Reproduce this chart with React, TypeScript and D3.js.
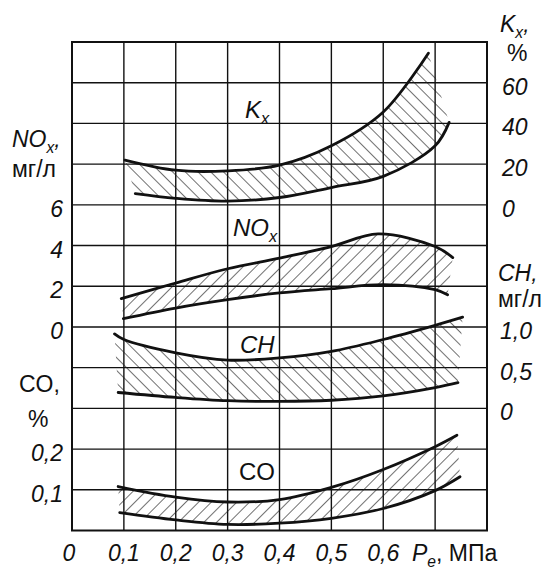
import React, { useRef, useEffect } from "react";
import * as d3 from "d3";

// tick values
const xTicks = [0, 0.1, 0.2, 0.3, 0.4, 0.5, 0.6];
const kxTicks = [0, 20, 40, 60];
const noxTicks = [0, 2, 4, 6];
const chTicks = [0, 0.5, 1.0];
const coTicks = [0.1, 0.2];

// K_x band, %
const kxUpperX = [0.102, 0.2, 0.3, 0.4, 0.5, 0.6, 0.687];
const kxUpperY = [22, 17, 16.7, 19.5, 29, 45.6, 74.5];
const kxLowerX = [0.122, 0.2, 0.3, 0.4, 0.5, 0.6, 0.7, 0.727];
const kxLowerY = [5.5, 3.2, 1.8, 3.6, 8.5, 14, 29, 40.5];

// NOx band, мг/л
const noxUpperX = [0.095, 0.2, 0.3, 0.4, 0.5, 0.59, 0.7, 0.734];
const noxUpperY = [1.39, 2.16, 2.86, 3.38, 3.95, 4.57, 3.95, 3.41];
const noxLowerX = [0.099, 0.2, 0.3, 0.4, 0.5, 0.6, 0.7, 0.724];
const noxLowerY = [0.41, 0.93, 1.34, 1.67, 1.88, 2.08, 1.83, 1.58];

// CH band, мг/л
const chUpperX = [0.082, 0.1, 0.2, 0.3, 0.4, 0.5, 0.6, 0.7, 0.753];
const chUpperY = [0.915, 0.846, 0.683, 0.593, 0.62, 0.7, 0.846, 1.02, 1.12];
const chLowerX = [0.089, 0.2, 0.3, 0.4, 0.5, 0.6, 0.7, 0.744];
const chLowerY = [0.195, 0.134, 0.094, 0.085, 0.1, 0.154, 0.256, 0.317];

// CO band, %
const coUpperX = [0.089, 0.2, 0.3, 0.4, 0.5, 0.6, 0.7, 0.742];
const coUpperY = [0.108, 0.082, 0.07, 0.076, 0.106, 0.15, 0.206, 0.234];
const coLowerX = [0.092, 0.2, 0.3, 0.4, 0.5, 0.6, 0.7, 0.748];
const coLowerY = [0.044, 0.026, 0.015, 0.018, 0.03, 0.054, 0.098, 0.132];

const FONT = "'Liberation Sans', Arial, sans-serif";

export default function App() {
  const svgRef = useRef<SVGSVGElement>(null);

  useEffect(() => {
    const w = 545;
    const h = 569;
    const svg = d3.select(svgRef.current);
    svg.selectAll("*").remove();
    svg.attr("width", w).attr("height", h).style("background", "#fff");

    // scales
    const x = d3.scaleLinear().domain([0, 0.8]).range([72, 487]);
    const row = d3.scaleLinear().domain([0, 12]).range([530.5, 42]);
    const yCO = d3.scaleLinear().domain([0, 0.1]).range([row(0), row(1)]);
    const yCH = d3.scaleLinear().domain([0, 0.5]).range([row(3), row(4)]);
    const yNOx = d3.scaleLinear().domain([0, 2]).range([row(5), row(6)]);
    const yK = d3.scaleLinear().domain([0, 20]).range([row(8), row(9)]);

    // hatch patterns
    const defs = svg.append("defs");
    const addHatch = (id: string, angle: number) => {
      defs
        .append("pattern")
        .attr("id", id)
        .attr("patternUnits", "userSpaceOnUse")
        .attr("width", 9)
        .attr("height", 9)
        .attr("patternTransform", `rotate(${angle})`)
        .append("line")
        .attr("x1", 0)
        .attr("y1", -1)
        .attr("x2", 0)
        .attr("y2", 10)
        .attr("stroke", "#1a1a1a")
        .attr("stroke-width", 1.25);
    };
    addHatch("hatchBack", -45);
    addHatch("hatchFwd", 45);

    // grid
    const grid = svg.append("g");
    grid
      .selectAll(".vl")
      .data(d3.range(1, 8).map((i) => i / 10))
      .join("line")
      .attr("x1", (d) => x(d))
      .attr("x2", (d) => x(d))
      .attr("y1", row(0))
      .attr("y2", row(12))
      .attr("stroke", "#111")
      .attr("stroke-width", 1.4);
    grid
      .selectAll(".hl")
      .data(d3.range(1, 12))
      .join("line")
      .attr("x1", x(0))
      .attr("x2", x(0.8))
      .attr("y1", (d) => row(d))
      .attr("y2", (d) => row(d))
      .attr("stroke", "#111")
      .attr("stroke-width", 1.4);
    grid
      .append("rect")
      .attr("x", x(0))
      .attr("y", row(12))
      .attr("width", x(0.8) - x(0))
      .attr("height", row(0) - row(12))
      .attr("fill", "none")
      .attr("stroke", "#111")
      .attr("stroke-width", 2);

    // bands
    const line = d3
      .line<[number, number]>()
      .x((d) => d[0])
      .y((d) => d[1])
      .curve(d3.curveCatmullRom.alpha(0.5));

    const drawBand = (
      ux: number[],
      uy: number[],
      lx: number[],
      ly: number[],
      yScale: d3.ScaleLinear<number, number>,
      hatch: string
    ) => {
      const up = ux.map((v, i) => [x(v), yScale(uy[i])] as [number, number]);
      const lo = lx.map((v, i) => [x(v), yScale(ly[i])] as [number, number]);
      const upPath = line(up) as string;
      const loRev = (line(lo.slice().reverse()) as string).replace(/^M/, "L");
      svg
        .append("path")
        .attr("d", upPath + loRev + "Z")
        .attr("fill", `url(#${hatch})`)
        .attr("stroke", "none");
      svg
        .selectAll(null)
        .data([up, lo])
        .join("path")
        .attr("d", (d) => line(d))
        .attr("fill", "none")
        .attr("stroke", "#111")
        .attr("stroke-width", 2.8)
        .attr("stroke-linecap", "round");
    };

    drawBand(kxUpperX, kxUpperY, kxLowerX, kxLowerY, yK, "hatchBack");
    drawBand(noxUpperX, noxUpperY, noxLowerX, noxLowerY, yNOx, "hatchFwd");
    drawBand(chUpperX, chUpperY, chLowerX, chLowerY, yCH, "hatchBack");
    drawBand(coUpperX, coUpperY, coLowerX, coLowerY, yCO, "hatchFwd");

    // number format with decimal comma
    const ru = d3.formatLocale({
      decimal: ",",
      thousands: " ",
      grouping: [3],
      currency: ["", ""],
    });
    const f1 = (v: number) => (v === 0 ? "0" : ru.format(".1f")(v));
    const f0 = (v: number) => ru.format("d")(v);

    const txt = svg
      .append("g")
      .attr("font-family", FONT)
      .attr("fill", "#111");

    const tickText = (
      data: number[],
      xp: number,
      yScale: d3.ScaleLinear<number, number>,
      anchor: string,
      fmt: (v: number) => string
    ) => {
      txt
        .append("g")
        .selectAll("text")
        .data(data)
        .join("text")
        .attr("x", xp)
        .attr("y", (d) => yScale(d) + 12)
        .attr("text-anchor", anchor)
        .attr("font-size", 23)
        .attr("font-style", "italic")
        .text(fmt);
    };

    tickText(noxTicks, 63, yNOx, "end", f0);
    tickText(coTicks, 63, yCO, "end", f1);
    tickText(kxTicks, 502, yK, "start", f0);
    tickText(chTicks, 500, yCH, "start", f1);

    // x ticks
    txt
      .append("g")
      .selectAll("text")
      .data(xTicks)
      .join("text")
      .attr("x", (d) => x(d) - (d === 0 ? 3 : 0))
      .attr("y", 561)
      .attr("text-anchor", "middle")
      .attr("font-size", 23)
      .attr("font-style", "italic")
      .text(f1);

    // labels with subscripts
    const subLabel = (
      xp: number,
      yp: number,
      main: string,
      sub: string,
      tail: string,
      size: number,
      italic: boolean,
      tailItalic = italic
    ) => {
      const t = txt
        .append("text")
        .attr("x", xp)
        .attr("y", yp)
        .attr("font-size", size);
      t.append("tspan")
        .attr("font-style", italic ? "italic" : "normal")
        .text(main);
      if (sub) {
        t.append("tspan")
          .attr("font-size", size * 0.68)
          .attr("dy", size * 0.25)
          .attr("font-style", italic ? "italic" : "normal")
          .text(sub);
      }
      if (tail) {
        t.append("tspan")
          .attr("dy", sub ? -size * 0.25 : 0)
          .attr("font-style", tailItalic ? "italic" : "normal")
          .text(tail);
      }
    };

    // left axis titles
    subLabel(12, 147, "NO", "x", ",", 23, true);
    subLabel(12, 177, "мг/л", "", "", 23, false);
    subLabel(19, 392, "CO,", "", "", 23, false);
    subLabel(28, 427, "%", "", "", 23, false);

    // right axis titles
    subLabel(500, 32, "K", "x", ",", 23, true);
    subLabel(507, 61, "%", "", "", 23, false);
    subLabel(498, 281, "CH,", "", "", 23, true);
    subLabel(498, 307, "мг/л", "", "", 23, false);

    // x axis title
    subLabel(412, 561, "P", "e", ",  МПа", 23, true, false);

    // curve labels
    subLabel(245, 118, "K", "x", "", 24, true);
    subLabel(233, 236, "NO", "x", "", 24, true);
    subLabel(240, 353, "CH", "", "", 24, true);
    subLabel(239, 480, "CO", "", "", 24, false);
  }, []);

  return (
    <svg
      ref={svgRef}
      style={{ position: "absolute", left: 0, top: 0 }}
    ></svg>
  );
}
